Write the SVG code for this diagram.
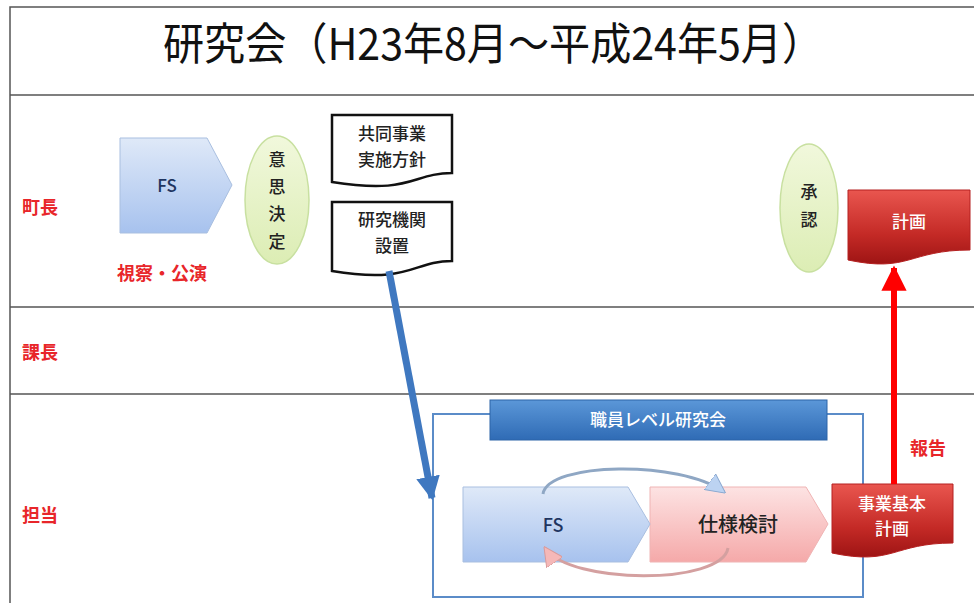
<svg xmlns="http://www.w3.org/2000/svg" width="974" height="603" viewBox="0 0 974 603">
<defs>
<linearGradient id="gBlue" x1="0" y1="0" x2="0" y2="1"><stop offset="0" stop-color="#dfe9f8"/><stop offset="1" stop-color="#a7c2ee"/></linearGradient>
<linearGradient id="gPink" x1="0" y1="0" x2="0" y2="1"><stop offset="0" stop-color="#fde3e3"/><stop offset="1" stop-color="#f5a9a9"/></linearGradient>
<linearGradient id="gRed" x1="0" y1="0" x2="0" y2="1"><stop offset="0" stop-color="#e9564f"/><stop offset="0.6" stop-color="#c42a26"/><stop offset="1" stop-color="#9e1414"/></linearGradient>
<linearGradient id="gGreen" x1="0" y1="0" x2="0" y2="1"><stop offset="0" stop-color="#f1f8dc"/><stop offset="1" stop-color="#dcedb4"/></linearGradient>
<linearGradient id="gBar" x1="0" y1="0" x2="0" y2="1"><stop offset="0" stop-color="#5b97d8"/><stop offset="1" stop-color="#2f6bb5"/></linearGradient>
<marker id="mBlue" viewBox="0 0 10 10" refX="9" refY="5" markerWidth="3.4" markerHeight="3.4" orient="auto" markerUnits="strokeWidth"><path d="M0,0 L10,5 L0,10 Z" fill="#3f78c0"/></marker>
<marker id="mRed" viewBox="0 0 10 10" refX="9" refY="5" markerWidth="4.2" markerHeight="4.2" orient="auto" markerUnits="strokeWidth"><path d="M0,0 L10,5 L0,10 Z" fill="#ff0000"/></marker>
<marker id="mArcB" viewBox="0 0 10 10" refX="9" refY="5" markerWidth="6.5" markerHeight="6.5" orient="auto" markerUnits="strokeWidth"><path d="M0,0 L10,5 L0,10 Z" fill="#bcd3f2" stroke="#8aa8cf" stroke-width="0.5"/></marker>
<marker id="mArcP" viewBox="0 0 10 10" refX="9" refY="5" markerWidth="6.5" markerHeight="6.5" orient="auto" markerUnits="strokeWidth"><path d="M0,0 L10,5 L0,10 Z" fill="#f5b8b8" stroke="#d89a9a" stroke-width="0.5"/></marker>
</defs>
<style>
.jp{font-family:"Noto Sans CJK JP","Noto Sans CJK SC",sans-serif;}
.lab{font-family:"Noto Sans CJK JP",sans-serif;font-weight:bold;fill:#e8262a;font-size:18px;}
.grid{stroke:#555;stroke-width:1.5;fill:none;}
.doc{fill:#fff;stroke:#111;stroke-width:2.5;}
.rdoc{fill:url(#gRed);stroke:#b52020;stroke-width:1;}
.dk{fill:#222;font-size:17px;text-anchor:middle;font-weight:500;}
.wt{fill:#fff;font-size:17px;text-anchor:middle;font-weight:500;}
</style>
<rect width="974" height="603" fill="#fff"/>
<g id="frame">
<path class="grid" d="M974,7 H10 V603"/>
<line class="grid" x1="10" y1="95" x2="974" y2="95"/>
<line class="grid" x1="10" y1="307" x2="974" y2="307"/>
<line class="grid" x1="10" y1="394" x2="974" y2="394"/>
</g>
<g id="title"><text class="jp" x="493" y="60" font-size="44" text-anchor="middle" textLength="660" lengthAdjust="spacingAndGlyphs" fill="#111">研究会（H23年8月～平成24年5月）</text></g>
<g id="lane-labels">
<text class="lab" x="22" y="214">町長</text>
<text class="lab" x="22" y="359">課長</text>
<text class="lab" x="22" y="522">担当</text>
</g>
<g id="fs-top">
<path d="M120,138 H207 L232,185 L207,233 H120 Z" fill="url(#gBlue)" stroke="#a9bfe0" stroke-width="1"/>
<text class="jp" x="167" y="192" font-size="17" font-weight="500" fill="#1f3560" text-anchor="middle">FS</text>
</g>
<g id="shisatsu"><text class="lab" x="117" y="280" font-size="19">視察・公演</text></g>
<g id="ishi-kettei">
<ellipse cx="277" cy="200" rx="32" ry="64" fill="url(#gGreen)" stroke="#c8e0a0" stroke-width="1.5"/>
<text class="jp dk" x="277" y="166" fill="#2d3a22">意</text>
<text class="jp dk" x="277" y="193" fill="#2d3a22">思</text>
<text class="jp dk" x="277" y="220" fill="#2d3a22">決</text>
<text class="jp dk" x="277" y="248" fill="#2d3a22">定</text>
</g>
<g id="doc-houshin">
<path class="doc" d="M332,115 H452 V173 C412,173 412,195 332,182 Z"/>
<text class="jp dk" x="392" y="140">共同事業</text>
<text class="jp dk" x="392" y="166">実施方針</text>
</g>
<g id="doc-kikan">
<path class="doc" d="M332,202 H452 V261 C412,261 412,284 332,271 Z"/>
<text class="jp dk" x="392" y="226">研究機関</text>
<text class="jp dk" x="392" y="252">設置</text>
</g>
<g id="shounin">
<ellipse cx="809" cy="208" rx="29" ry="64" fill="url(#gGreen)" stroke="#c8e0a0" stroke-width="1.5"/>
<text class="jp dk" x="809" y="198" fill="#2d3a22">承</text>
<text class="jp dk" x="809" y="226" fill="#2d3a22">認</text>
</g>
<g id="keikaku">
<path class="rdoc" d="M848,190 H970 V250 C909,250 909,273 848,260 Z"/>
<text class="jp wt" x="909" y="228">計画</text>
</g>
<g id="kenkyukai-group">
<rect x="433" y="414" width="430" height="183" fill="none" stroke="#5b8cc8" stroke-width="2"/>
<rect x="490" y="400" width="337" height="40" fill="url(#gBar)" stroke="#2d64a8" stroke-width="1"/>
<text class="jp wt" x="658" y="426" font-size="18">職員レベル研究会</text>
</g>
<g id="shiyou">
<path d="M650,487 H806 L828,524 L806,562 H650 Z" fill="url(#gPink)" stroke="#efb4b4" stroke-width="1"/>
<text class="jp" x="738" y="532" font-size="20" font-weight="500" fill="#222" text-anchor="middle">仕様検討</text>
</g>
<g id="fs-bottom">
<path d="M463,487 H628 L650,524 L628,562 H463 Z" fill="url(#gBlue)" stroke="#a9bfe0" stroke-width="1"/>
<text class="jp" x="553" y="532" font-size="18" font-weight="500" fill="#1f3560" text-anchor="middle">FS</text>
</g>
<g id="jigyou-keikaku">
<path class="rdoc" d="M832,484 H953 V543 C893,543 893,566 832,553 Z"/>
<text class="jp wt" x="892" y="510">事業基本</text>
<text class="jp wt" x="892" y="535">計画</text>
</g>
<g id="houkoku"><text class="lab" x="910" y="455">報告</text></g>
<g id="connectors">
<line x1="389" y1="271" x2="432" y2="498" stroke="#3f78c0" stroke-width="7" marker-end="url(#mBlue)"/>
<line x1="894" y1="484" x2="894" y2="268" stroke="#ff0000" stroke-width="6" marker-end="url(#mRed)"/>
<path d="M543,494 C548,462 680,460 724,492" fill="none" stroke="#8fa7c4" stroke-width="3" marker-end="url(#mArcB)"/>
<path d="M728,548 C722,585 570,585 545,548" fill="none" stroke="#d4a0a0" stroke-width="3" marker-end="url(#mArcP)"/>
</g>
</svg>
